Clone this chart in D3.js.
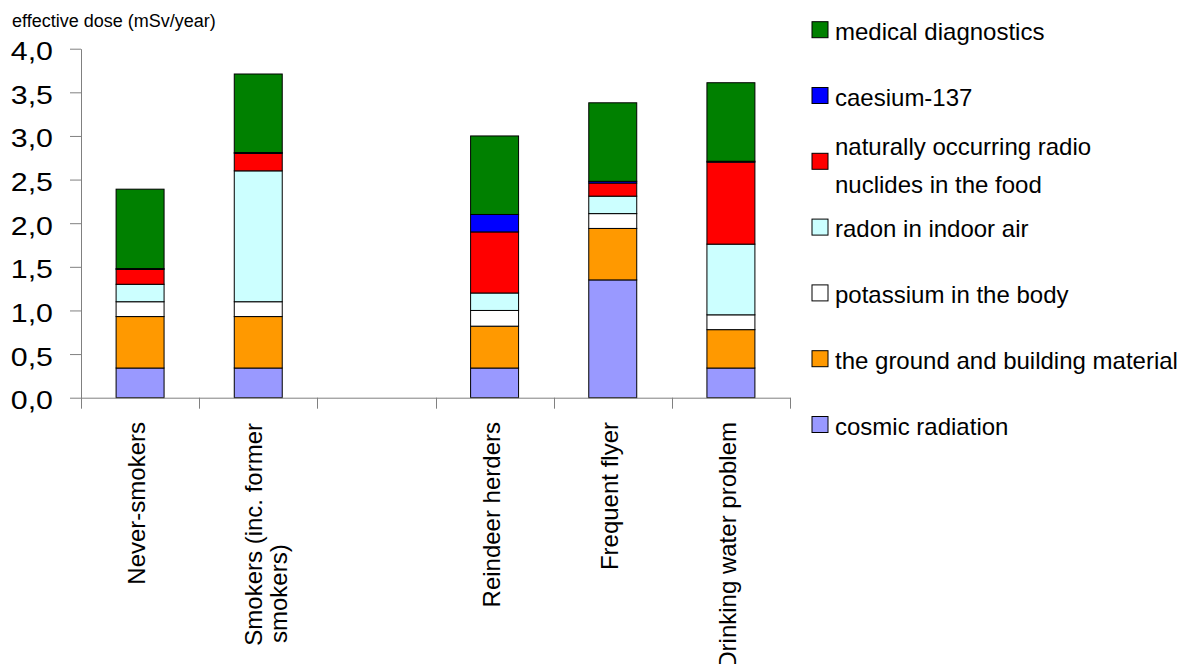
<!DOCTYPE html>
<html>
<head>
<meta charset="utf-8">
<script src="https://cdn.jsdelivr.net/npm/d3@7"></script>
<style>
  html, body { margin: 0; padding: 0; background: #fff; }
  svg { display: block; font-family: "Liberation Sans", Arial, Helvetica, sans-serif; }
</style>
</head>
<body>
<svg id="chart" width="1191" height="664"></svg>
<script>
// ---- data ----
const categories = ["Never-smokers", "Smokers (inc. former smokers)", "", "Reindeer herders", "Frequent flyer", "Drinking water problem"];
const categoryLabelLines = [["Never-smokers"], ["Smokers (inc. former", "smokers)"], [], ["Reindeer herders"], ["Frequent flyer"], ["Drinking water problem"]];

const seriesNames = ["cosmic radiation", "the ground and building material", "potassium in the body", "radon in indoor air", "naturally occurring radio nuclides in the food", "caesium-137", "medical diagnostics"];
const legendLines = [["cosmic radiation"], ["the ground and building material"], ["potassium in the body"], ["radon in indoor air"], ["naturally occurring radio", "nuclides in the food"], ["caesium-137"], ["medical diagnostics"]];
const seriesColors = ["#9999FF", "#FF9900", "#FFFFFF", "#CCFFFF", "#FF0000", "#0000FF", "#008000"];

const cosmic    = [0.34, 0.34, 0, 0.34, 1.35, 0.34];
const ground    = [0.59, 0.59, 0, 0.48, 0.59, 0.44];
const potassium = [0.17, 0.17, 0, 0.18, 0.17, 0.17];
const radon     = [0.20, 1.50, 0, 0.20, 0.20, 0.81];
const food      = [0.17, 0.20, 0, 0.70, 0.15, 0.94];
const caesium   = [0.01, 0.01, 0, 0.20, 0.02, 0.01];
const medical   = [0.91, 0.90, 0, 0.90, 0.90, 0.90];

const yTicks = [0, 0.5, 1, 1.5, 2, 2.5, 3, 3.5, 4];
const yTitle = "effective dose (mSv/year)";

// ---- build table ----
const seriesValues = [cosmic, ground, potassium, radon, food, caesium, medical];
const table = categories.map((c, i) => {
  const row = { cat: c, idx: i };
  seriesNames.forEach((s, j) => row[s] = seriesValues[j][i]);
  return row;
});

const svg = d3.select("#chart");
const plotLeft = 81, plotRight = 790, plotTop = 48.7, plotBottom = 397.7;

const x = d3.scaleBand().domain(d3.range(categories.length)).range([plotLeft, plotRight]).padding(0);
const y = d3.scaleLinear().domain([0, 4]).range([plotBottom, plotTop]);
const color = d3.scaleOrdinal().domain(seriesNames).range(seriesColors);
const barW = x.bandwidth() * 0.406;

const stack = d3.stack().keys(seriesNames);
const stacked = stack(table);

// bars
const g = svg.append("g");
stacked.forEach(layer => {
  g.selectAll(null)
    .data(layer.filter(d => d[1] - d[0] > 0))
    .join("rect")
    .attr("x", d => x(d.data.idx) + (x.bandwidth() - barW) / 2)
    .attr("y", d => y(d[1]))
    .attr("width", barW)
    .attr("height", d => y(d[0]) - y(d[1]))
    .attr("fill", color(layer.key))
    .attr("stroke", "#000")
    .attr("stroke-width", 1);
});

// y axis
const fmt = d => d.toFixed(1).replace(".", ",");
const yAxis = d3.axisLeft(y).tickValues(yTicks).tickSize(11).tickSizeOuter(0).tickFormat(fmt);
const yg = svg.append("g").attr("transform", `translate(${plotLeft},0)`).call(yAxis);
yg.select(".domain").attr("stroke", "#808080");
yg.selectAll(".tick line").attr("stroke", "#808080");
yg.selectAll(".tick text")
  .attr("x", 0).attr("dy", null).attr("y", 0)
  .attr("transform", "translate(-28,11) scale(1.19,1)")
  .attr("text-anchor", "end")
  .attr("fill", "#000")
  .style("font-size", "25.5px")
  .style("font-family", '"Liberation Sans", Arial, sans-serif');

// x axis
const xAxis = d3.axisBottom(x).tickSize(0).tickSizeOuter(0).tickFormat("");
const xg = svg.append("g").attr("transform", `translate(0,${plotBottom})`).call(xAxis);
xg.select(".domain").attr("stroke", "#808080");
xg.selectAll(".tick").remove();
const bounds = d3.range(categories.length).map(i => x(i)).concat([x(categories.length - 1) + x.bandwidth()]);
xg.selectAll(".bnd").data(bounds).join("line")
  .attr("class", "bnd")
  .attr("x1", d => Math.round(d) + 0.5).attr("x2", d => Math.round(d) + 0.5)
  .attr("y1", 0).attr("y2", 11)
  .attr("stroke", "#808080");

// x labels
categoryLabelLines.forEach((lines, i) => {
  const cx = x(i) + x.bandwidth() / 2;
  if (lines.length === 1) {
    svg.append("text")
      .attr("transform", `translate(${cx + 5},422) rotate(-90)`)
      .attr("text-anchor", "end")
      .style("font-size", "24px")
      .text(lines[0]);
  } else if (lines.length === 2) {
    svg.append("text")
      .attr("transform", `translate(${cx + 4},423) rotate(-90)`)
      .attr("text-anchor", "end")
      .style("font-size", "24px")
      .text(lines[0]);
    svg.append("text")
      .attr("transform", `translate(${cx + 29},643) rotate(-90)`)
      .attr("text-anchor", "start")
      .style("font-size", "24px")
      .text(lines[1]);
  }
});

// y title
svg.append("text").attr("x", 12).attr("y", 27).style("font-size", "18px").text(yTitle);

// legend (top to bottom = reverse stacking order)
const legendOrder = d3.range(seriesNames.length).reverse();
legendOrder.forEach((si, k) => {
  const ty = 21.7 + k * 65.8;
  svg.append("rect")
    .attr("x", 812).attr("y", ty).attr("width", 16).attr("height", 16)
    .attr("fill", seriesColors[si]).attr("stroke", "#000").attr("stroke-width", 1);
  const lines = legendLines[si];
  if (lines.length === 1) {
    svg.append("text").attr("x", 835).attr("y", ty + 18).style("font-size", "24px").text(lines[0]);
  } else {
    svg.append("text").attr("x", 835).attr("y", ty + 1.7).style("font-size", "24px").text(lines[0]);
    svg.append("text").attr("x", 835).attr("y", ty + 39.5).style("font-size", "24px").text(lines[1]);
  }
});
</script>
</body>
</html>
